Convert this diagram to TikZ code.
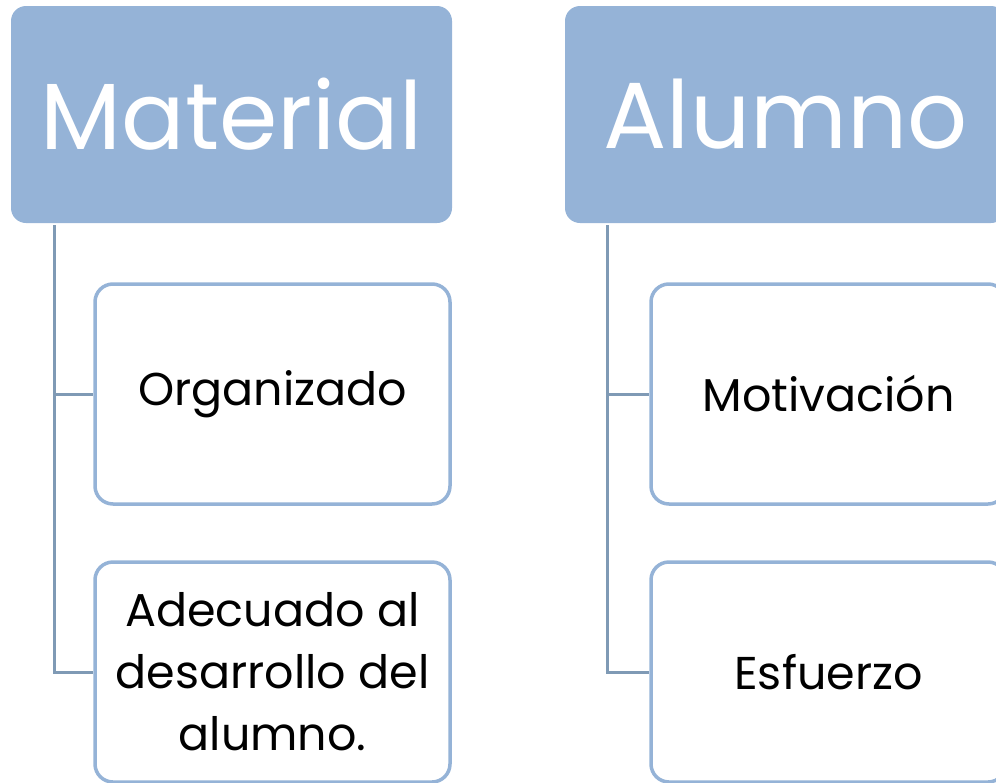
\documentclass[tikz,border=0pt]{standalone}
\usepackage{fontspec}
\setmainfont{Poppins}
\definecolor{headblue}{HTML}{95B3D7}
\definecolor{linkblue}{HTML}{7F9AB5}
\begin{document}
\begin{tikzpicture}[x=1pt,y=-1pt,
    header/.style={fill=headblue, rounded corners=15pt, text=white, minimum width=441pt, minimum height=217pt, font=\fontsize{94}{104}\selectfont},
    item/.style={draw=headblue, line width=3.5pt, fill=white, rounded corners=18pt, minimum width=355pt, minimum height=220pt, align=center, font=\fontsize{46}{62}\selectfont},
    link/.style={draw=linkblue, line width=3pt}]
                \useasboundingbox (0,0) rectangle (996,782);
                % cabeceras
                \node[header] (mat) at (231.5,114.5) {Material};
                \node[header] (alu) at (785.5,114.5) {Alumno};
                % elementos
                \node[item] (org) at (272.5,394) {Organizado};
                \node[item] (ade) at (272.5,672) {Adecuado al\\desarrollo del\\alumno.};
                \node[item] (mot) at (828.5,394) {Motivación};
                \node[item] (esf) at (828.5,672) {Esfuerzo};
                \coordinate (mtop) at (54,225);
                \coordinate (atop) at (607,225);
                \draw[link] (mtop) |- (org.west);
                \draw[link] (mtop) |- (ade.west);
                \draw[link] (atop) |- (mot.west);
                \draw[link] (atop) |- (esf.west);
            \end{tikzpicture}
\end{document}
